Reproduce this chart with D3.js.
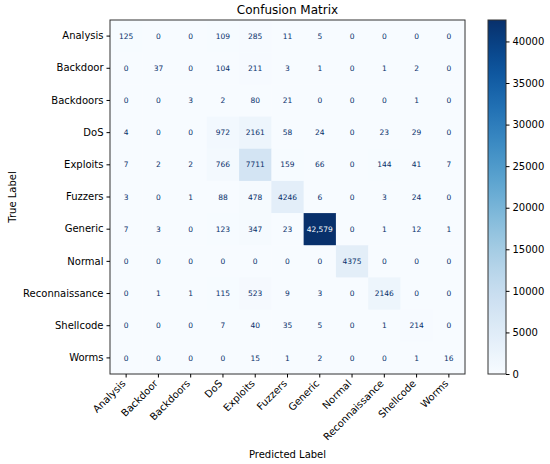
<!DOCTYPE html>
<html lang="en">
<head>
    <meta charset="UTF-8">
    <title>Confusion Matrix</title>
    <script src="https://cdn.jsdelivr.net/npm/d3@7"></script>
    <style>
        body { margin: 0; background: #fff; }
        text { font-family: "DejaVu Sans", sans-serif; }
    </style>
</head>
<body>
<script>
    // class names (rows = true, columns = predicted)
    var labels = ["Analysis", "Backdoor", "Backdoors", "DoS", "Exploits", "Fuzzers",
                  "Generic", "Normal", "Reconnaissance", "Shellcode", "Worms"];

    // confusion matrix counts
    var matrix = [
        [125, 0, 0, 109, 285, 11, 5, 0, 0, 0, 0],
        [0, 37, 0, 104, 211, 3, 1, 0, 1, 2, 0],
        [0, 0, 3, 2, 80, 21, 0, 0, 0, 1, 0],
        [4, 0, 0, 972, 2161, 58, 24, 0, 23, 29, 0],
        [7, 2, 2, 766, 7711, 159, 66, 0, 144, 41, 7],
        [3, 0, 1, 88, 478, 4246, 6, 0, 3, 24, 0],
        [7, 3, 0, 123, 347, 23, 42579, 0, 1, 12, 1],
        [0, 0, 0, 0, 0, 0, 0, 4375, 0, 0, 0],
        [0, 1, 1, 115, 523, 9, 3, 0, 2146, 0, 0],
        [0, 0, 0, 7, 40, 35, 5, 0, 1, 214, 0],
        [0, 0, 0, 0, 15, 1, 2, 0, 0, 1, 16]
    ];

    // colorbar ticks
    var barTicks = [0, 5000, 10000, 15000, 20000, 25000, 30000, 35000, 40000];

    var width = 550, height = 464;
    var mLeft = 110, mTop = 20, mRight = 465, mBottom = 374;

    var svg = d3.select("body").append("svg")
        .attr("width", width)
        .attr("height", height);

    var vmax = d3.max(matrix, function (r) { return d3.max(r); });
    var color = d3.scaleSequential(d3.interpolateBlues).domain([0, vmax]);

    var x = d3.scaleBand().domain(labels).range([mLeft, mRight]);
    var y = d3.scaleBand().domain(labels).range([mTop, mBottom]);

    // cells
    var cells = [];
    matrix.forEach(function (row, i) {
        row.forEach(function (v, j) {
            cells.push({ t: labels[i], p: labels[j], v: v });
        });
    });

    svg.append("g").selectAll("rect")
        .data(cells)
        .enter().append("rect")
        .attr("x", function (d) { return x(d.p); })
        .attr("y", function (d) { return y(d.t); })
        .attr("width", x.bandwidth() + 0.5)
        .attr("height", y.bandwidth() + 0.5)
        .attr("fill", function (d) { return color(d.v); });

    var fmt = function (v) { return v >= 10000 ? d3.format(",")(v) : String(v); };
    svg.append("g").selectAll("text")
        .data(cells)
        .enter().append("text")
        .attr("x", function (d) { return x(d.p) + x.bandwidth() / 2; })
        .attr("y", function (d) { return y(d.t) + y.bandwidth() / 2; })
        .attr("dy", "0.35em")
        .attr("text-anchor", "middle")
        .style("font-size", "7.5px")
        .attr("fill", function (d) { return d.v > vmax / 2 ? "#f7fbff" : "#08306b"; })
        .text(function (d) { return fmt(d.v); });

    // frame
    svg.append("rect")
        .attr("x", mLeft).attr("y", mTop)
        .attr("width", mRight - mLeft).attr("height", mBottom - mTop)
        .attr("fill", "none").attr("stroke", "#333").attr("stroke-width", 1);

    // axes
    var xAxis = svg.append("g")
        .attr("transform", "translate(0," + mBottom + ")")
        .call(d3.axisBottom(x).tickSize(3.5).tickPadding(3));
    xAxis.select(".domain").remove();
    xAxis.selectAll("text")
        .style("font-size", "10px")
        .attr("fill", "#000")
        .attr("text-anchor", "end")
        .attr("dy", "0.3em")
        .attr("y", 0)
        .attr("transform", "translate(-2,8) rotate(-45)");

    var yAxis = svg.append("g")
        .attr("transform", "translate(" + mLeft + ",0)")
        .call(d3.axisLeft(y).tickSize(3.5).tickPadding(3));
    yAxis.select(".domain").remove();
    yAxis.selectAll("text").style("font-size", "10px").attr("fill", "#000");

    // colorbar
    var cbx = 488, cbw = 18;
    var cy = d3.scaleLinear().domain([0, vmax]).range([mBottom, mTop]);
    var defs = svg.append("defs");
    var grad = defs.append("linearGradient")
        .attr("id", "cbgrad")
        .attr("x1", "0").attr("y1", "1").attr("x2", "0").attr("y2", "0");
    d3.range(0, 1.0001, 0.05).forEach(function (t) {
        grad.append("stop").attr("offset", t).attr("stop-color", d3.interpolateBlues(t));
    });
    svg.append("rect")
        .attr("x", cbx).attr("y", mTop)
        .attr("width", cbw).attr("height", mBottom - mTop)
        .attr("fill", "url(#cbgrad)")
        .attr("stroke", "#333").attr("stroke-width", 1);

    var cAxis = svg.append("g")
        .attr("transform", "translate(" + (cbx + cbw) + ",0)")
        .call(d3.axisRight(cy).tickValues(barTicks).tickFormat(d3.format("d")).tickSize(3.5).tickPadding(3));
    cAxis.select(".domain").remove();
    cAxis.selectAll("text").style("font-size", "10px").attr("fill", "#000");

    // titles
    svg.append("text")
        .attr("x", (mLeft + mRight) / 2).attr("y", 14)
        .attr("text-anchor", "middle")
        .style("font-size", "12px")
        .text("Confusion Matrix");

    svg.append("text")
        .attr("x", (mLeft + mRight) / 2).attr("y", 458)
        .attr("text-anchor", "middle")
        .style("font-size", "10px")
        .text("Predicted Label");

    svg.append("text")
        .attr("transform", "translate(16," + ((mTop + mBottom) / 2) + ") rotate(-90)")
        .attr("text-anchor", "middle")
        .style("font-size", "10px")
        .text("True Label");
</script>
</body>
</html>
